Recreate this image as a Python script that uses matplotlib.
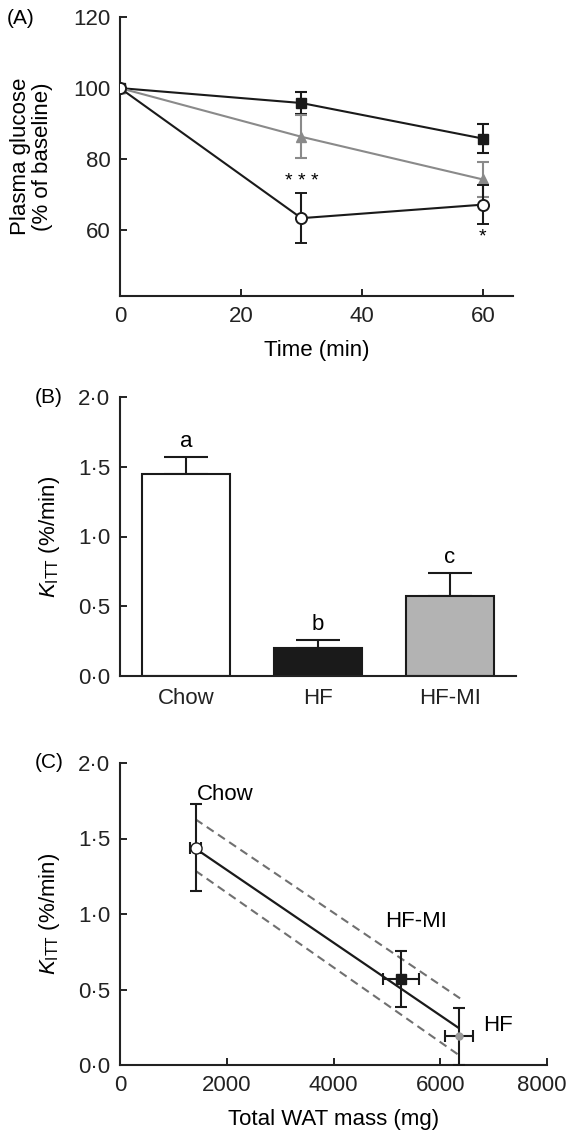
import matplotlib
matplotlib.use("Agg")
import matplotlib.pyplot as plt
import matplotlib.transforms as mtransforms
from matplotlib.ticker import FuncFormatter

plt.rcParams["font.family"] = ["Liberation Sans", "DejaVu Sans"]
plt.rcParams["mathtext.fontset"] = "custom"
plt.rcParams["mathtext.rm"] = "Liberation Sans"
plt.rcParams["mathtext.it"] = "Liberation Sans:italic"

# (A) insulin tolerance test, % of baseline
time_min = [0, 30, 60]
sq_mean = [100, 95.8, 85.8]
sq_err = [0, 3.1, 4.1]
tri_mean = [100, 86.3, 74.3]
tri_err = [0, 6.0, 5.0]
circ_mean = [100, 63.4, 67.2]
circ_err = [0, 7.0, 5.4]
stars_x = [30, 60]
stars_y = [73.8, 58.0]
stars_txt = ["* * *", "*"]

# (B) KITT bars
groups = ["Chow", "HF", "HF-MI"]
kitt = [1.45, 0.20, 0.57]
kitt_err = [0.12, 0.06, 0.17]
bar_colors = ["white", "#1a1a1a", "#b3b3b3"]
letters = ["a", "b", "c"]

# (C) KITT v. total WAT mass
wat = [1415, 6345, 5265]
wat_err = [110, 260, 335]
kitt_c = [1.44, 0.19, 0.57]
kitt_c_err = [0.29, 0.19, 0.185]
fit_x = [1415, 6330]
fit_y = [1.433, 0.249]
ci_x = [1415, 6372]
ci_hi = [1.627, 0.441]
ci_lo = [1.286, 0.060]
lab_c = [("Chow", 1440, 1.79, "left"), ("HF", 7080, 0.26, "center"),
         ("HF-MI", 5540, 0.95, "center")]

FS = 16
W, H = 569, 1134
fig = plt.figure(figsize=(W / 100, H / 100), dpi=100)


def add_ax(l, r, t, b):
    return fig.add_axes([l / W, 1 - b / H, (r - l) / W, (b - t) / H])


def style(ax):
    for s in ("top", "right"):
        ax.spines[s].set_visible(False)
    for s in ("left", "bottom"):
        ax.spines[s].set_linewidth(1.5)
        ax.spines[s].set_color("#222222")
    ax.tick_params(direction="in", length=5, width=1.4, labelsize=FS,
                   color="#222222", labelcolor="#222222")
    ax.tick_params(axis="y", pad=7)
    ax.tick_params(axis="x", pad=7)


def place_labels(ax, xl, yl):
    if xl is not None:
        ax.xaxis.set_label_coords(0.5, xl)
        ax.xaxis.label.set_verticalalignment("center")
    ax.yaxis.set_label_coords(yl, 0.5)
    ax.yaxis.label.set_verticalalignment("center")


dot = FuncFormatter(lambda v, p: f"{v:.1f}".replace(".", "\u00b7"))
kitt_label = r"$K_{\mathrm{ITT}}$ (%/min)"

# ---- A
ax = add_ax(120, 513, 17, 296)
style(ax)
ekw = dict(lw=1.5, capsize=4.5, capthick=1.5, elinewidth=1.5)
ax.errorbar(time_min, tri_mean, yerr=tri_err, color="#8a8a8a", marker="^",
            ms=7, zorder=3, **ekw)
ax.errorbar(time_min, sq_mean, yerr=sq_err, color="#1a1a1a", marker="s",
            ms=6.5, zorder=2, **ekw)
ax.errorbar(time_min, circ_mean, yerr=circ_err, color="#1a1a1a", marker="o",
            mfc="white", mec="#1a1a1a", mew=1.4, ms=8, zorder=4, **ekw)
for x, y, s in zip(stars_x, stars_y, stars_txt):
    ax.text(x, y, s, ha="center", va="center", fontsize=14)
ax.set_xlim(0, 65)
ax.set_ylim(41.5, 120)
ax.set_xticks([0, 20, 40, 60])
ax.set_yticks([60, 80, 100, 120])
ax.set_xlabel("Time (min)", fontsize=FS)
ax.set_ylabel("Plasma glucose\n(% of baseline)", fontsize=FS, linespacing=1.05)
place_labels(ax, -0.195, -0.225)
fig.text(7 / W, 1 - 18 / H, "(A)", fontsize=15, va="center")

# ---- B
ax = add_ax(120, 516, 397, 676)
style(ax)
xs = range(len(groups))
ax.bar(xs, kitt, width=0.665, color=bar_colors, edgecolor="#1a1a1a",
       linewidth=1.5, zorder=2)
ax.errorbar(xs, kitt, yerr=[[0] * 3, kitt_err], fmt="none", ecolor="#1a1a1a",
            capsize=16, capthick=1.5, elinewidth=1.5, zorder=1)
for x, y, e, t in zip(xs, kitt, kitt_err, letters):
    ax.text(x, y + e + 0.11, t, ha="center", va="center", fontsize=FS)
ax.set_xlim(-0.5, 2.5)
ax.set_ylim(0, 2.0)
ax.set_yticks([0, 0.5, 1.0, 1.5, 2.0])
ax.yaxis.set_major_formatter(dot)
ax.set_xticks(list(xs))
ax.set_xticklabels(groups)
ax.tick_params(axis="x", length=0, pad=9)
ax.set_ylabel(kitt_label, fontsize=FS)
place_labels(ax, None, -0.177)
fig.text(35 / W, 1 - 397 / H, "(B)", fontsize=15, va="center")

# ---- C
ax = add_ax(120, 547, 763, 1065)
style(ax)
ax.plot(fit_x, fit_y, color="#1a1a1a", lw=1.6, zorder=2)
ax.plot(ci_x, ci_hi, color="#707070", lw=1.5, ls=(0, (4, 2.5)), zorder=2)
ax.plot(ci_x, ci_lo, color="#707070", lw=1.5, ls=(0, (4, 2.5)), zorder=2)
mk = [("o", "white", "#1a1a1a", 8), ("o", "#999999", "#999999", 5),
      ("s", "#1a1a1a", "#1a1a1a", 7)]
for i, (m, fc, ec, s) in enumerate(mk):
    ax.errorbar(wat[i], kitt_c[i], xerr=wat_err[i], yerr=kitt_c_err[i],
                fmt=m, mfc=fc, mec=ec, ms=s, ecolor="#1a1a1a",
                elinewidth=1.5, capsize=4.5, capthick=1.5, zorder=3)
for t, x, y, ha in lab_c:
    ax.text(x, y, t, ha=ha, va="center", fontsize=FS)
ax.set_xlim(0, 8000)
ax.set_ylim(0, 2.0)
ax.set_xticks([0, 2000, 4000, 6000, 8000])
ax.set_yticks([0, 0.5, 1.0, 1.5, 2.0])
ax.yaxis.set_major_formatter(dot)
ax.set_xlabel("Total WAT mass (mg)", fontsize=FS)
ax.set_ylabel(kitt_label, fontsize=FS)
place_labels(ax, -0.182, -0.164)
# nudge the last tick label so it stays inside the figure
last = ax.get_xticklabels()[-1]
last.set_transform(last.get_transform() +
                   mtransforms.ScaledTranslation(-5 / 100, 0, fig.dpi_scale_trans))
fig.text(35 / W, 1 - 763 / H, "(C)", fontsize=15, va="center")

fig.savefig("out.png", dpi=100)
